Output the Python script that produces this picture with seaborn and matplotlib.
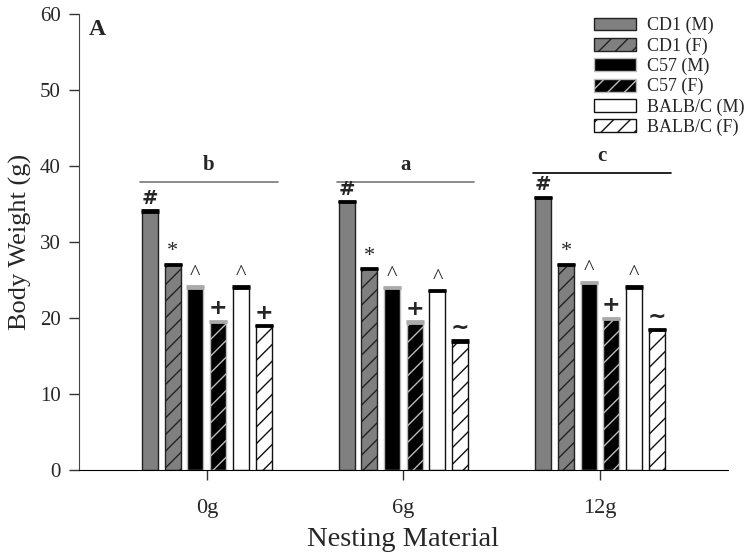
"""Body weight by nesting material and strain/sex, grouped bar chart."""

import matplotlib
matplotlib.use('Agg')
import matplotlib.pyplot as plt
import seaborn as sns
import numpy as np
import pandas as pd

nesting = ['0g', '6g', '12g']
groups = ['CD1 (M)', 'CD1 (F)', 'C57 (M)', 'C57 (F)', 'BALB/C (M)', 'BALB/C (F)']

# mean body weight (g), one list per group, in nesting order
cd1_m = [34.0, 35.2, 35.8]
cd1_f = [27.0, 26.4, 27.0]
c57_m = [24.0, 23.9, 24.6]
c57_f = [19.5, 19.4, 19.9]
balb_m = [24.0, 23.5, 24.0]
balb_f = [18.9, 16.9, 18.4]
sem = [0.15, 0.15, 0.15]

# symbols drawn above each group's bars
marks = ['#', '*', '^', '+', '^', '+']
balb_f_marks = ['+', '~', '~']

# significance letters above each nesting group
sig_letters = ['b', 'a', 'c']
sig_heights = [37.9, 37.9, 39.1]

fill_colors = ['#808080', '#808080', '#000000', '#000000', '#ffffff', '#ffffff']
edge_colors = ['#222222', '#222222', '#bbbbbb', '#bbbbbb', '#111111', '#111111']
cap_colors = ['black', 'black', '#aaaaaa', '#aaaaaa', 'black', 'black']
hatches = ['', '//', '', '//', '', '//']

values = [cd1_m, cd1_f, c57_m, c57_f, balb_m, balb_f]
df = pd.DataFrame({
    'Nesting': np.tile(nesting, len(groups)),
    'Group': np.repeat(groups, len(nesting)),
    'Weight': np.concatenate(values),
})

sns.set_style('ticks')
plt.rcParams['font.family'] = ['Liberation Serif', 'DejaVu Serif']
plt.rcParams['hatch.linewidth'] = 1.0

fig = plt.figure(figsize=(7.45, 5.53), dpi=100)
ax = fig.add_axes([0.106, 0.150, 0.871, 0.825])

sns.barplot(data=df, x='Nesting', y='Weight', hue='Group', order=nesting,
            hue_order=groups, palette=fill_colors, width=0.693, gap=0.295,
            errorbar=None, legend=False, ax=ax)

bar_containers = list(ax.containers)
for i, container in enumerate(bar_containers):
    for j, rect in enumerate(container.patches):
        rect.set_facecolor(fill_colors[i])
        rect.set_edgecolor(edge_colors[i])
        rect.set_linewidth(1.0)
        rect.set_hatch(hatches[i])
        cx = rect.get_x() + rect.get_width() / 2
        top = rect.get_height()
        # upper error bar only, the lower half hides inside the bar
        ax.errorbar(cx, top, yerr=[[0], [sem[j]]], fmt='none',
                    ecolor=cap_colors[i], elinewidth=1, capsize=6.5,
                    capthick=2)
        label = balb_f_marks[j] if i == 5 else marks[i]
        if label in ('#', '+', '~'):
            ax.text(cx, top + 0.5, label, ha='center', va='bottom',
                    fontsize=14 if label == '#' else 16, fontweight='bold',
                    family=['DejaVu Sans'])
        else:
            ax.text(cx, top + 0.5, label, ha='center', va='bottom',
                    fontsize=16)

for k, (letter, h) in enumerate(zip(sig_letters, sig_heights)):
    color = '#777777' if letter != 'c' else 'black'
    ax.plot([k - 0.34, k + 0.36], [h, h], color=color, lw=1.2)
    ax.text(k + 0.01, h + 0.9, letter, ha='center', va='bottom',
            fontsize=15, fontweight='bold')

ax.text(-0.60, 58.0, 'A', fontsize=17, fontweight='bold', va='center')

ax.set_xlim(-0.65, 2.65)
ax.set_ylim(0, 60)
ax.set_yticks(range(0, 61, 10))
ax.tick_params(axis='both', length=7, width=1, direction='out',
               color='#333333')
ax.tick_params(axis='y', labelsize=15, pad=6)
ax.tick_params(axis='x', labelsize=16, pad=14)
ax.set_xlabel('Nesting Material', fontsize=20.5, labelpad=6)
ax.set_ylabel('Body Weight (g)', fontsize=19, labelpad=6)
sns.despine(ax=ax)
ax.spines['left'].set_color('#444444')
ax.spines['bottom'].set_color('black')

handles = [plt.Rectangle((0, 0), 1, 1, facecolor=fill_colors[i],
                         edgecolor=edge_colors[i], hatch=hatches[i], lw=1.0)
           for i in range(len(groups))]
ax.legend(handles, groups, loc='upper left', bbox_to_anchor=(594 / 745, 1 - 17 / 553),
          bbox_transform=fig.transFigure, frameon=False, fontsize=13,
          handlelength=2.3, handleheight=0.72, labelspacing=0.17,
          handletextpad=0.65, borderaxespad=0.0, borderpad=0.0)

fig.savefig('out.png', dpi=100)
